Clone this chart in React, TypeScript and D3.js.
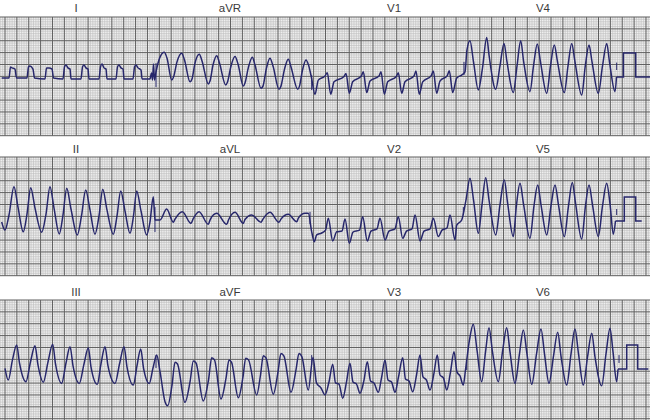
import * as React from "react";
import * as d3 from "d3";

type Pt = [number, number]; // [time s, mV]

const rowLeads = [
  ["I", "aVR", "V1", "V4"],
  ["II", "aVL", "V2", "V5"],
  ["III", "aVF", "V3", "V6"],
];
const labelTimes = [1.267, 3.833, 6.567, 9.05];

// ---- row 1 ----
const leadI: Pt[] = [
  [0.028, -0.04], [0.15, -0.04], [0.175, 0.42], [0.2, 0.38], [0.25, 0.33], [0.275, -0.04],
  [0.45, -0.04], [0.475, 0.42], [0.5, 0.46], [0.55, 0.33], [0.575, -0.04],
  [0.75, -0.08], [0.775, 0.38], [0.817, 0.38], [0.867, 0.33], [0.892, -0.04],
  [1.05, -0.08], [1.075, 0.42], [1.1, 0.5], [1.133, 0.38], [1.167, 0.33], [1.183, -0.08],
  [1.35, -0.08], [1.375, 0.42], [1.4, 0.5], [1.433, 0.38], [1.467, 0.33], [1.483, -0.08],
  [1.65, -0.08], [1.675, 0.42], [1.7, 0.54], [1.733, 0.38], [1.767, 0.33], [1.783, -0.08],
  [1.933, -0.08], [1.958, 0.42], [1.983, 0.5], [2.017, 0.38], [2.05, 0.33], [2.067, -0.08],
  [2.217, -0.08], [2.242, 0.42], [2.267, 0.5], [2.3, 0.38], [2.35, 0.29], [2.367, -0.08],
  [2.5, -0.08], [2.525, 0.17], [2.542, -0.13], [2.558, 0.54], [2.575, -0.13],
];
const leadAVR: Pt[] = [
  [2.6, 0.21], [2.667, 0.83], [2.738, 1.03], [2.783, 0.79], [2.862, -0.13], [2.892, 0],
  [2.95, 0.63], [3.028, 0.99], [3.075, 0.71], [3.167, -0.2], [3.2, -0.08],
  [3.25, 0.58], [3.322, 0.95], [3.367, 0.67], [3.472, -0.29], [3.5, -0.17],
  [3.55, 0.5], [3.612, 0.89], [3.658, 0.58], [3.762, -0.33], [3.792, -0.21],
  [3.85, 0.46], [3.917, 0.85], [3.967, 0.54], [4.055, -0.38], [4.083, -0.25],
  [4.142, 0.42], [4.205, 0.82], [4.25, 0.5], [4.35, -0.47], [4.383, -0.38],
  [4.442, 0.38], [4.5, 0.78], [4.55, 0.46], [4.65, -0.51], [4.683, -0.38],
  [4.742, 0.33], [4.805, 0.74], [4.85, 0.42], [4.962, -0.51], [4.992, -0.38],
  [5.042, 0.29], [5.1, 0.71], [5.142, 0.5], [5.192, -0.04],
];
const leadV1: Pt[] = [
  [5.25, -0.72], [5.305, -0.13], [5.417, 0.04], [5.455, 0.18], [5.512, -0.72], [5.567, -0.2],
  [5.733, 0.02], [5.767, 0.15], [5.822, -0.68], [5.878, -0.2],
  [6.022, 0.04], [6.055, 0.22], [6.112, -0.65], [6.167, -0.17],
  [6.317, 0.04], [6.35, 0.22], [6.405, -0.72], [6.462, -0.2],
  [6.605, 0.02], [6.638, 0.18], [6.695, -0.68], [6.75, -0.2],
  [6.9, 0.04], [6.933, 0.25], [6.988, -0.72], [7.045, -0.2],
  [7.188, 0.06], [7.222, 0.25], [7.278, -0.68], [7.333, -0.17],
  [7.455, 0.06], [7.488, 0.26], [7.545, -0.65], [7.612, -0.04], [7.695, 0.08], [7.75, 0.21],
];
const leadV4: Pt[] = [
  [7.783, 1.13], [7.833, 1.51], [7.892, 0.63], [7.972, -0.54], [8.042, 0.38],
  [8.112, 1.65], [8.15, 0.92], [8.262, -0.51], [8.333, 0.46],
  [8.4, 1.4], [8.45, 0.63], [8.555, -0.65], [8.617, 0.46],
  [8.678, 1.51], [8.728, 0.63], [8.833, -0.61], [8.892, 0.46],
  [8.955, 1.38], [9.008, 0.63], [9.112, -0.68], [9.175, 0.46],
  [9.238, 1.33], [9.292, 0.63], [9.405, -0.65], [9.467, 0.46],
  [9.528, 1.4], [9.583, 0.63], [9.695, -0.75], [9.755, 0.46],
  [9.817, 1.33], [9.867, 0.63], [9.972, -0.68], [10.042, 0.46],
  [10.112, 1.4], [10.158, 0.63], [10.25, -0.61], [10.275, 0],
];

// ---- row 2 ----
const leadII: Pt[] = [
  [0.028, -0.04], [0.083, -0.38], [0.15, 0.25], [0.233, 1.43], [0.3, 0.58], [0.388, -0.45],
  [0.45, 0.29], [0.512, 1.39], [0.583, 0.54], [0.695, -0.47],
  [0.767, 0.29], [0.833, 1.43], [0.9, 0.54], [0.988, -0.54],
  [1.05, 0.25], [1.112, 1.36], [1.183, 0.5], [1.288, -0.58],
  [1.358, 0.21], [1.428, 1.29], [1.5, 0.46], [1.583, -0.55],
  [1.65, 0.21], [1.712, 1.32], [1.783, 0.46], [1.888, -0.55],
  [1.95, 0.21], [2.012, 1.25], [2.083, 0.42], [2.167, -0.51],
  [2.225, 0.21], [2.278, 1.25], [2.35, 0.42], [2.445, -0.58],
  [2.5, -0.04], [2.555, 1.01], [2.583, 0.04], [2.667, 0.04],
];
const leadAVL: Pt[] = [
  [2.778, 0.5], [2.888, -0.05], [2.917, 0.08], [3.038, 0.39], [3.183, -0.1], [3.217, 0.08],
  [3.317, 0.39], [3.472, -0.14], [3.5, 0.04], [3.612, 0.32], [3.778, -0.14], [3.808, 0.04],
  [3.917, 0.36], [4.055, -0.1], [4.083, 0.06], [4.195, 0.25], [4.35, -0.05], [4.383, 0.08],
  [4.5, 0.36], [4.65, -0.05], [4.683, 0.08], [4.805, 0.28], [4.945, -0.03], [4.975, 0.13],
  [5.083, 0.32], [5.138, 0.32], [5.195, -0.45], [5.238, -0.86],
];
const leadV2: Pt[] = [
  [5.278, -0.58], [5.362, -0.5], [5.425, -0.38], [5.472, 0.11], [5.545, -0.83], [5.612, -0.45],
  [5.7, -0.42], [5.75, 0.08], [5.822, -0.93], [5.883, -0.46],
  [5.992, -0.38], [6.045, 0.18], [6.122, -0.83], [6.183, -0.42],
  [6.283, -0.33], [6.333, 0.11], [6.417, -0.79], [6.483, -0.42],
  [6.583, -0.33], [6.638, 0.18], [6.712, -0.72], [6.775, -0.42],
  [6.867, -0.33], [6.917, 0.25], [7.0, -0.83], [7.067, -0.42],
  [7.167, -0.33], [7.222, 0.11], [7.305, -0.65], [7.367, -0.38],
  [7.45, -0.29], [7.5, 0.25], [7.583, -0.79], [7.612, -0.17], [7.695, 0.04],
];
const leadV5: Pt[] = [
  [7.767, 0.88], [7.833, 1.78], [7.892, 0.88], [7.972, -0.51], [8.033, 0.67],
  [8.095, 1.8], [8.15, 0.88], [8.262, -0.58], [8.333, 0.67],
  [8.405, 1.71], [8.458, 0.79], [8.555, -0.65], [8.608, 0.67],
  [8.667, 1.57], [8.725, 0.71], [8.833, -0.72], [8.9, 0.63],
  [8.962, 1.5], [9.017, 0.67], [9.112, -0.58], [9.183, 0.63],
  [9.25, 1.5], [9.308, 0.67], [9.405, -0.65], [9.475, 0.63],
  [9.538, 1.6], [9.592, 0.75], [9.695, -0.75], [9.758, 0.63],
  [9.817, 1.5], [9.875, 0.67], [9.972, -0.65], [10.042, 0.63],
  [10.112, 1.57], [10.167, 0.71], [10.222, -0.55], [10.258, 0],
];

// ---- row 3 ----
const leadIII: Pt[] = [
  [0.083, 0.03], [0.138, -0.46], [0.208, 0.38], [0.278, 1.0], [0.325, 0.25], [0.433, -0.53],
  [0.508, 0.29], [0.583, 0.97], [0.633, 0.17], [0.722, -0.55],
  [0.8, 0.29], [0.878, 1.03], [0.925, 0.21], [1.028, -0.6],
  [1.1, 0.25], [1.167, 0.93], [1.217, 0.13], [1.322, -0.6],
  [1.4, 0.21], [1.472, 0.89], [1.517, 0.08], [1.622, -0.64],
  [1.683, 0.21], [1.75, 0.93], [1.8, 0.13], [1.917, -0.6],
  [1.992, 0.21], [2.067, 0.93], [2.117, 0.08], [2.222, -0.67],
  [2.283, 0.13], [2.345, 0.83], [2.392, 0.04], [2.488, -0.6],
  [2.55, 0.04], [2.612, 0.58], [2.667, -0.11], [2.75, -1.36],
];
const leadAVF: Pt[] = [
  [2.795, -1.53], [2.867, -0.67], [2.917, 0.28], [2.958, 0.21],
  [3.083, -1.39], [3.167, -0.54], [3.222, 0.33], [3.267, 0.25],
  [3.388, -1.33], [3.475, -0.46], [3.528, 0.47], [3.575, 0.38],
  [3.683, -1.25], [3.767, -0.38], [3.817, 0.38], [3.858, 0.29],
  [3.972, -1.2], [4.05, -0.33], [4.095, 0.45], [4.142, 0.38],
  [4.278, -1.08], [4.342, -0.25], [4.388, 0.55], [4.433, 0.46],
  [4.555, -1.05], [4.633, -0.13], [4.683, 0.65], [4.733, 0.54],
  [4.85, -0.97], [4.933, -0.04], [4.983, 0.65], [5.033, 0.5],
  [5.138, -0.88], [5.217, 0.48],
];
const leadV3: Pt[] = [
  [5.275, -0.58], [5.35, -0.79], [5.417, -1.08], [5.483, -0.54], [5.545, 0.2], [5.592, -0.58], [5.65, -0.63],
  [5.712, -1.22], [5.775, -0.54], [5.833, 0.24], [5.883, -0.54], [5.942, -0.63],
  [6.0, -1.01], [6.067, -0.46], [6.122, 0.3], [6.175, -0.5], [6.233, -0.58],
  [6.305, -0.97], [6.358, -0.38], [6.417, 0.38], [6.467, -0.46], [6.525, -0.54],
  [6.583, -0.97], [6.642, -0.33], [6.712, 0.47], [6.758, -0.42], [6.817, -0.5],
  [6.878, -0.95], [6.942, -0.25], [7.0, 0.58], [7.05, -0.33], [7.108, -0.46],
  [7.167, -0.88], [7.233, -0.17], [7.288, 0.58], [7.333, -0.25], [7.392, -0.38],
  [7.445, -0.88], [7.508, -0.13], [7.567, 0.72], [7.617, -0.13], [7.667, -0.29],
  [7.722, -0.67], [7.758, -0.04],
];
const leadV6: Pt[] = [
  [7.825, 1.21], [7.888, 1.86], [7.95, 0.79], [8.028, -0.53], [8.092, 0.71],
  [8.15, 1.72], [8.208, 0.71], [8.305, -0.53], [8.375, 0.71],
  [8.445, 1.72], [8.5, 0.71], [8.583, -0.6], [8.658, 0.63],
  [8.722, 1.63], [8.783, 0.63], [8.862, -0.64], [8.942, 0.63],
  [9.017, 1.67], [9.075, 0.63], [9.15, -0.6], [9.225, 0.54],
  [9.295, 1.53], [9.35, 0.54], [9.445, -0.67], [9.517, 0.63],
  [9.583, 1.67], [9.642, 0.63], [9.722, -0.67], [9.792, 0.5],
  [9.862, 1.49], [9.917, 0.5], [10.028, -0.7], [10.1, 0.63],
  [10.167, 1.7], [10.217, 0.71], [10.278, -0.53], [10.3, -0.01],
];

const rowSeries: Pt[][][] = [
  [leadI, leadAVR, leadV1, leadV4],
  [leadII, leadAVL, leadV2, leadV5],
  [leadIII, leadAVF, leadV3, leadV6],
];

// calibration pulse per row: [start s, end s, trace end s]
const calibration: [number, number, number][] = [
  [10.39, 10.595, 10.833],
  [10.405, 10.595, 10.695],
  [10.445, 10.628, 10.805],
];
const calAmplitude = 1; // mV

// lead change marks per row: [t s, top mV, bottom mV]
const leadMarks: [number, number, number][][] = [
  [[2.6, 0.58, -0.42], [5.195, 0.08, -0.54], [7.733, 0.63, 0.08], [10.278, 0.6, 0.29]],
  [[2.583, 0.58, -0.46], [5.167, 0.38, -0.13], [7.722, 0.58, 0.25], [10.278, 0.5, 0.25]],
  [[2.6, 0.58, 0.04], [5.195, 0.58, 0.17], [7.778, 0.29, -0.04], [10.317, 0.58, 0.25]],
];

const W = 650;
const H = 420;
const gridTop = [17, 157, 300];
const baseY = [77, 221, 369];
const labelY = [12, 153, 296];
const MAJOR = 11.87;
const MINOR = MAJOR / 5;
const TRACE = "#27276b";

export default function App() {
  const x = d3.scaleLinear().domain([0, W / 60]).range([0, W]);
  const wave = d3.line<Pt>().curve(d3.curveMonotoneX);
  const straight = d3.line<Pt>();

  const rows = rowSeries.map((leads, r) => {
    const y = d3.scaleLinear().domain([-1, 1]).range([baseY[r] + 24, baseY[r] - 24]);
    const top = gridTop[r];
    const bottom = Math.min(H, top + MAJOR * 10 + (r === 2 ? 2 : 0));

    const minorV: number[] = [];
    const majorV: number[] = [];
    for (let i = -2; i * MINOR + 5 <= W; i++) {
      const xx = 5 + i * MINOR;
      if (xx < 0) continue;
      (i % 5 === 0 ? majorV : minorV).push(xx);
    }
    const minorH: number[] = [];
    const majorH: number[] = [];
    for (let j = 0; top + j * MINOR <= bottom + 0.1; j++) {
      (j % 5 === 0 ? majorH : minorH).push(top + j * MINOR);
    }

    const all = leads.flat();
    const pts: [number, number][] = all.map((d) => [x(d[0]), y(d[1])]);
    const last = all[all.length - 1];
    const [cs, ce, tend] = calibration[r];
    const cal: [number, number][] = ([
      [last[0], 0], [cs, 0], [cs, calAmplitude], [ce, calAmplitude], [ce, 0], [tend, 0],
    ] as Pt[]).map((d) => [x(d[0]), y(d[1])]);

    return (
      <g key={r}>
        <rect x={0} y={top} width={W} height={bottom - top} fill="#efefef" />
        {minorV.map((v, i) => (
          <line key={"mv" + i} x1={v} x2={v} y1={top} y2={bottom} stroke="#bdbdbd" strokeWidth={0.6} />
        ))}
        {minorH.map((v, i) => (
          <line key={"mh" + i} x1={0} x2={W} y1={v} y2={v} stroke="#bdbdbd" strokeWidth={0.6} />
        ))}
        {majorV.map((v, i) => (
          <line key={"Mv" + i} x1={v} x2={v} y1={top} y2={bottom} stroke="#5e5e5e" strokeWidth={1} />
        ))}
        {majorH.map((v, i) => (
          <line key={"Mh" + i} x1={0} x2={W} y1={v} y2={v} stroke="#5e5e5e" strokeWidth={1} />
        ))}
        {rowLeads[r].map((name, i) => (
          <text key={name} x={x(labelTimes[i])} y={labelY[r]} textAnchor="middle"
            fontFamily="'Liberation Sans', Arial, sans-serif" fontSize={11.5} fill="#3a3a3a">
            {name}
          </text>
        ))}
        <path d={wave(pts) || ""} fill="none" stroke={TRACE} strokeWidth={1.5} strokeLinejoin="round" />
        <path d={straight(cal) || ""} fill="none" stroke={TRACE} strokeWidth={1.5} />
        {leadMarks[r].map((m, i) => (
          <line key={"lm" + i} x1={x(m[0])} x2={x(m[0])} y1={y(m[1])} y2={y(m[2])}
            stroke={TRACE} strokeWidth={1} />
        ))}
      </g>
    );
  });

  return (
    <div style={{ position: "absolute", left: 0, top: 0, width: W, height: H, background: "#fff" }}>
      <svg width={W} height={H} viewBox={`0 0 ${W} ${H}`}>
        <rect width={W} height={H} fill="#ffffff" />
        {rows}
      </svg>
    </div>
  );
}
